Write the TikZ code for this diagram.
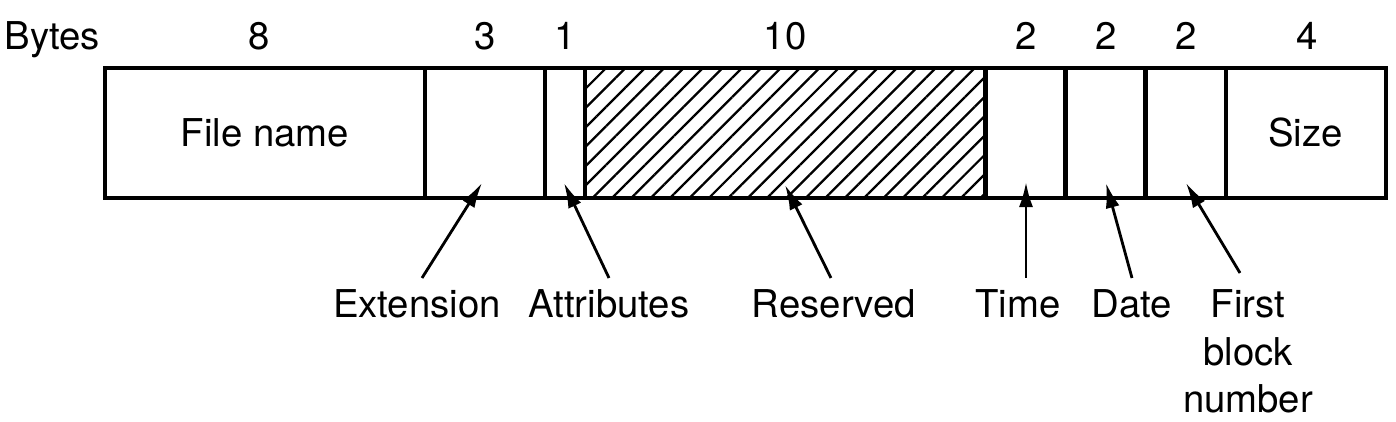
\documentclass[tikz,border=0pt]{standalone}
\usepackage{fontspec}
\setmainfont{TeX Gyre Heros}
\usetikzlibrary{arrows.meta, positioning, patterns.meta, calc}

\begin{document}
\begin{tikzpicture}[
        x=0.01cm, y=-0.01cm,
        node distance=0pt,
        field/.style={rectangle, draw=black, line width=1.2pt, minimum height=1.3cm, inner sep=0pt, outer sep=0pt, font=\fontsize{10.9}{13.5}\selectfont},
        count/.style={anchor=base, inner sep=0pt, font=\fontsize{10.9}{13.5}\selectfont},
        tag/.style={anchor=north, inner sep=0pt, outer sep=0.12cm, align=center, font=\fontsize{10.9}{13.5}\selectfont},
        pointer/.style={-{Latex[length=0.25cm, width=0.14cm]}, line width=0.8pt}
    ]
        \useasboundingbox (0,0) rectangle (1396,422);

        % Fields
        \node[field, minimum width=3.2cm, anchor=north west] (fname) at (105,68) {File name};
        \node[field, minimum width=1.2cm, right=of fname] (ext) {};
        \node[field, minimum width=0.4cm, right=of ext] (attr) {};
        \node[field, minimum width=4cm, right=of attr, pattern={Lines[angle=45, distance=3.9pt, line width=0.65pt]}] (resv) {};
        \node[field, minimum width=0.8cm, right=of resv] (time) {};
        \node[field, minimum width=0.8cm, right=of time] (date) {};
        \node[field, minimum width=0.8cm, right=of date] (first) {};
        \node[field, minimum width=1.6cm, right=of first] (size) {Size};

        % Byte counts
        \node[count, anchor=base west] (bytes) at (4,50) {Bytes};
        \node[count] (n8) at (259,50) {8};
        \node[count] (n3) at (485,50) {3};
        \node[count] (n1) at (565,50) {1};
        \node[count] (n10) at (785,50) {10};
        \node[count] (n2a) at (1026,50) {2};
        \node[count] (n2b) at (1106,50) {2};
        \node[count] (n2c) at (1186,50) {2};
        \node[count] (n4) at (1307,50) {4};

        % Labels
        \node[tag] (extl) at (417,278) {Extension};
        \node[tag] (attrl) at (609,278) {Attributes};
        \node[tag] (resvl) at (834,278) {Reserved};
        \node[tag] (timel) at (1018,278) {Time};
        \node[tag] (datel) at (1132,278) {Date};
        \node[tag] (firstl) at (1248,278) {First\\block\\number};

        % Arrow tips
        \coordinate (exttip) at (482,183);
        \coordinate (attrtip) at (564,183);
        \coordinate (resvtip) at (785,185);
        \coordinate (timetip) at (1026,182);
        \coordinate (datetip) at (1106,183);
        \coordinate (firsttip) at (1186,183);

        % Edges
        \draw[pointer] ($(extl.north)+(5,0)$) -- (exttip);
        \draw[pointer] (attrl.north) -- (attrtip);
        \draw[pointer] ($(resvl.north)+(-3,0)$) -- (resvtip);
        \draw[pointer] ($(timel.north)+(8,0)$) -- (timetip);
        \draw[pointer] (datel.north) -- (datetip);
        \draw[pointer] ($(firstl.north)+(-8,-5)$) -- (firsttip);

    \end{tikzpicture}
\end{document}
